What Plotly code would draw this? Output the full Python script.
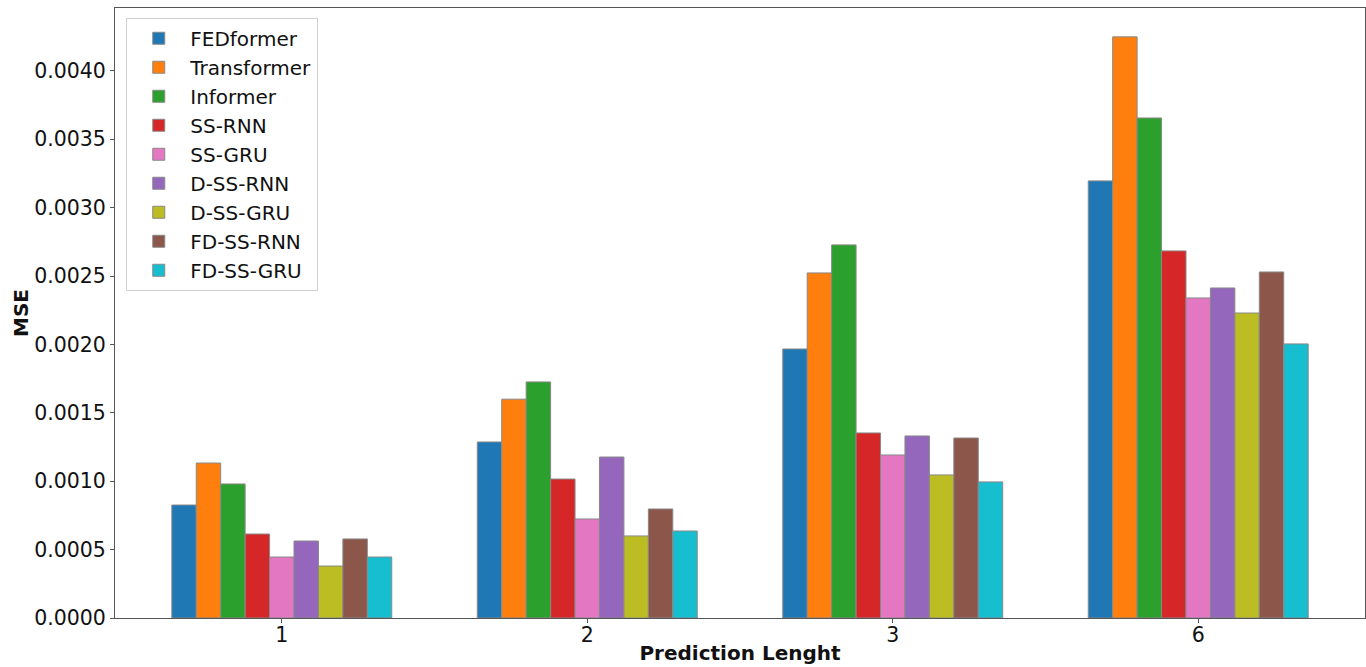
import plotly.graph_objects as go

categories = ["1", "2", "3", "6"]
models = ["FEDformer", "Transformer", "Informer", "SS-RNN", "SS-GRU",
          "D-SS-RNN", "D-SS-GRU", "FD-SS-RNN", "FD-SS-GRU"]
colors = ["#1f77b4", "#ff7f0e", "#2ca02c", "#d62728", "#e377c2",
          "#9467bd", "#bcbd22", "#8c564b", "#17becf"]

fedformer   = [0.000826, 0.001287, 0.001967, 0.003196]
transformer = [0.001133, 0.001600, 0.002523, 0.004249]
informer    = [0.000980, 0.001726, 0.002728, 0.003656]
ss_rnn      = [0.000614, 0.001016, 0.001353, 0.002684]
ss_gru      = [0.000446, 0.000724, 0.001192, 0.002340]
d_ss_rnn    = [0.000563, 0.001177, 0.001331, 0.002413]
d_ss_gru    = [0.000380, 0.000600, 0.001046, 0.002230]
fd_ss_rnn   = [0.000578, 0.000797, 0.001316, 0.002530]
fd_ss_gru   = [0.000446, 0.000636, 0.000995, 0.002004]

series = [fedformer, transformer, informer, ss_rnn, ss_gru,
          d_ss_rnn, d_ss_gru, fd_ss_rnn, fd_ss_gru]

xpos = list(range(len(categories)))

fig = go.Figure()
for name, vals, col in zip(models, series, colors):
    fig.add_trace(go.Bar(
        x=xpos, y=vals, name=name,
        marker=dict(color=col, line=dict(color="#888888", width=1)),
    ))

font = "DejaVu Sans"
fig.update_layout(
    width=1366, height=667,
    margin=dict(l=115, r=1, t=8, b=49, autoexpand=False),
    paper_bgcolor="white", plot_bgcolor="white",
    barmode="group", bargap=0.28, bargroupgap=0,
    font=dict(family=font, size=20.5, color="#111111"),
    showlegend=True,
    legend=dict(
        x=0.009, y=0.984, xanchor="left", yanchor="top",
        bgcolor="rgba(255,255,255,0.8)", bordercolor="#d0d0d0", borderwidth=1,
        font=dict(family=font, size=20, color="#111111"),
        tracegroupgap=0, itemwidth=53,
    ),
    xaxis=dict(
        range=[-0.546, 3.546], automargin=False,
        tickmode="array", tickvals=xpos, ticktext=categories,
        ticks="outside", ticklen=4, tickcolor="#555555",
        ticklabelstandoff=-6,
        showline=True, linecolor="#555555", linewidth=1, mirror=True,
        showgrid=False, zeroline=False,
        title=dict(text="<b>Prediction Lenght</b>", font=dict(family=font, size=20), standoff=0),
    ),
    yaxis=dict(
        range=[0, 0.00446], automargin=False,
        tickmode="array",
        tickvals=[i * 0.0005 for i in range(9)],
        ticktext=[f"{i * 0.0005:.4f}" for i in range(9)],
        ticks="outside", ticklen=4, tickcolor="#555555",
        showline=True, linecolor="#555555", linewidth=1, mirror=True,
        showgrid=False, zeroline=False,
        title=dict(text="<b>MSE</b>", font=dict(family=font, size=20), standoff=0),
    ),
)

fig.write_html("out.html", config={"displayModeBar": False},
               post_script="document.body.style.margin='0';")
